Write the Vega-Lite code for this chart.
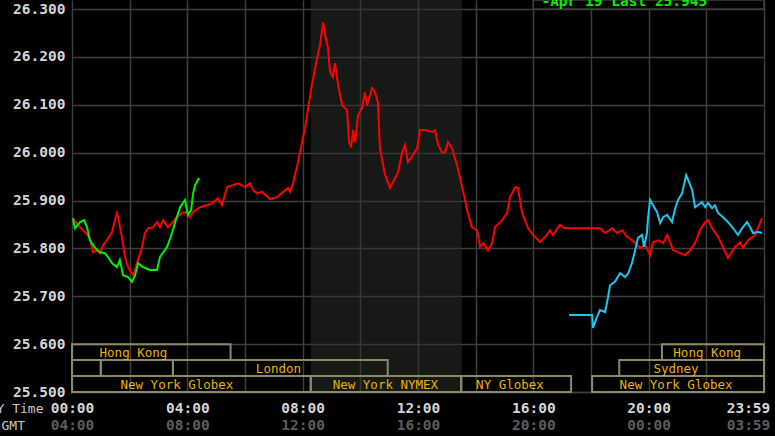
{
  "$schema": "https://vega.github.io/schema/vega-lite/v6.json",
  "width": 692,
  "height": 392,
  "autosize": "none",
  "padding": {"left": 72, "top": 0, "right": 11, "bottom": 44},
  "background": "#000000",
  "config": {
    "view": {"stroke": null},
    "axisY": {"grid": true, "gridColor": "#3e3e3e", "gridWidth": 1.5, "domain": false, "ticks": false, "labelPadding": 7,
      "labelFont": "DejaVu Sans Mono", "labelFontWeight": "bold", "labelFontSize": 14.5, "labelColor": "#d4d4d4",
      "labelOverlap": false, "labelFlush": false, "labelBound": false}
  },
  "datasets": {
    "prices": [
      {"s":"Current","h":0.03,"p":25.863},{"s":"Current","h":0.28,"p":25.844},{"s":"Current","h":0.45,"p":25.834},{"s":"Current","h":0.62,"p":25.822},{"s":"Current","h":0.73,"p":25.792},{"s":"Current","h":0.87,"p":25.796},{"s":"Current","h":0.97,"p":25.790},{"s":"Current","h":1.08,"p":25.807},{"s":"Current","h":1.21,"p":25.817},{"s":"Current","h":1.39,"p":25.834},{"s":"Current","h":1.49,"p":25.859},{"s":"Current","h":1.56,"p":25.874},{"s":"Current","h":1.60,"p":25.865},{"s":"Current","h":1.73,"p":25.824},{"s":"Current","h":1.84,"p":25.782},{"s":"Current","h":1.94,"p":25.761},{"s":"Current","h":2.12,"p":25.744},{"s":"Current","h":2.19,"p":25.755},{"s":"Current","h":2.29,"p":25.776},{"s":"Current","h":2.43,"p":25.803},{"s":"Current","h":2.53,"p":25.832},{"s":"Current","h":2.64,"p":25.842},{"s":"Current","h":2.81,"p":25.844},{"s":"Current","h":2.95,"p":25.855},{"s":"Current","h":3.05,"p":25.844},{"s":"Current","h":3.16,"p":25.859},{"s":"Current","h":3.33,"p":25.844},{"s":"Current","h":3.50,"p":25.855},{"s":"Current","h":3.64,"p":25.865},{"s":"Current","h":3.82,"p":25.874},{"s":"Current","h":3.99,"p":25.876},{"s":"Current","h":4.09,"p":25.865},{"s":"Current","h":4.20,"p":25.876},{"s":"Current","h":4.44,"p":25.886},{"s":"Current","h":4.68,"p":25.890},{"s":"Current","h":4.89,"p":25.895},{"s":"Current","h":5.06,"p":25.905},{"s":"Current","h":5.20,"p":25.890},{"s":"Current","h":5.38,"p":25.928},{"s":"Current","h":5.58,"p":25.932},{"s":"Current","h":5.76,"p":25.936},{"s":"Current","h":6.00,"p":25.928},{"s":"Current","h":6.17,"p":25.936},{"s":"Current","h":6.28,"p":25.922},{"s":"Current","h":6.42,"p":25.915},{"s":"Current","h":6.59,"p":25.918},{"s":"Current","h":6.87,"p":25.903},{"s":"Current","h":7.11,"p":25.907},{"s":"Current","h":7.32,"p":25.918},{"s":"Current","h":7.49,"p":25.926},{"s":"Current","h":7.56,"p":25.918},{"s":"Current","h":7.67,"p":25.936},{"s":"Current","h":7.73,"p":25.953},{"s":"Current","h":7.84,"p":25.980},{"s":"Current","h":7.98,"p":26.022},{"s":"Current","h":8.08,"p":26.051},{"s":"Current","h":8.19,"p":26.093},{"s":"Current","h":8.32,"p":26.141},{"s":"Current","h":8.50,"p":26.197},{"s":"Current","h":8.60,"p":26.224},{"s":"Current","h":8.71,"p":26.272},{"s":"Current","h":8.78,"p":26.245},{"s":"Current","h":8.88,"p":26.218},{"s":"Current","h":8.95,"p":26.168},{"s":"Current","h":9.05,"p":26.158},{"s":"Current","h":9.12,"p":26.187},{"s":"Current","h":9.23,"p":26.141},{"s":"Current","h":9.37,"p":26.099},{"s":"Current","h":9.54,"p":26.089},{"s":"Current","h":9.61,"p":26.022},{"s":"Current","h":9.68,"p":26.011},{"s":"Current","h":9.75,"p":26.047},{"s":"Current","h":9.82,"p":26.022},{"s":"Current","h":9.92,"p":26.078},{"s":"Current","h":10.06,"p":26.093},{"s":"Current","h":10.16,"p":26.126},{"s":"Current","h":10.23,"p":26.099},{"s":"Current","h":10.41,"p":26.135},{"s":"Current","h":10.51,"p":26.126},{"s":"Current","h":10.61,"p":26.105},{"s":"Current","h":10.68,"p":26.009},{"s":"Current","h":10.86,"p":25.953},{"s":"Current","h":11.03,"p":25.926},{"s":"Current","h":11.13,"p":25.938},{"s":"Current","h":11.31,"p":25.959},{"s":"Current","h":11.45,"p":26.001},{"s":"Current","h":11.55,"p":26.016},{"s":"Current","h":11.65,"p":25.980},{"s":"Current","h":11.83,"p":25.995},{"s":"Current","h":11.97,"p":26.009},{"s":"Current","h":12.07,"p":26.047},{"s":"Current","h":12.24,"p":26.047},{"s":"Current","h":12.49,"p":26.043},{"s":"Current","h":12.59,"p":26.047},{"s":"Current","h":12.70,"p":26.016},{"s":"Current","h":12.83,"p":26.001},{"s":"Current","h":12.94,"p":26.001},{"s":"Current","h":13.04,"p":26.022},{"s":"Current","h":13.18,"p":26.009},{"s":"Current","h":13.35,"p":25.974},{"s":"Current","h":13.46,"p":25.947},{"s":"Current","h":13.63,"p":25.901},{"s":"Current","h":13.70,"p":25.880},{"s":"Current","h":13.87,"p":25.844},{"s":"Current","h":14.05,"p":25.838},{"s":"Current","h":14.15,"p":25.803},{"s":"Current","h":14.26,"p":25.811},{"s":"Current","h":14.43,"p":25.796},{"s":"Current","h":14.57,"p":25.811},{"s":"Current","h":14.67,"p":25.844},{"s":"Current","h":14.92,"p":25.859},{"s":"Current","h":15.09,"p":25.874},{"s":"Current","h":15.19,"p":25.907},{"s":"Current","h":15.37,"p":25.928},{"s":"Current","h":15.47,"p":25.926},{"s":"Current","h":15.61,"p":25.874},{"s":"Current","h":15.82,"p":25.842},{"s":"Current","h":15.99,"p":25.828},{"s":"Current","h":16.23,"p":25.813},{"s":"Current","h":16.41,"p":25.824},{"s":"Current","h":16.58,"p":25.838},{"s":"Current","h":16.68,"p":25.828},{"s":"Current","h":16.92,"p":25.849},{"s":"Current","h":17.10,"p":25.842},{"s":"Current","h":17.72,"p":25.842},{"s":"Current","h":18.31,"p":25.842},{"s":"Current","h":18.49,"p":25.832},{"s":"Current","h":18.73,"p":25.842},{"s":"Current","h":18.90,"p":25.832},{"s":"Current","h":19.08,"p":25.838},{"s":"Current","h":19.25,"p":25.824},{"s":"Current","h":19.42,"p":25.817},{"s":"Current","h":19.60,"p":25.807},{"s":"Current","h":19.70,"p":25.801},{"s":"Current","h":19.88,"p":25.807},{"s":"Current","h":20.05,"p":25.786},{"s":"Current","h":20.15,"p":25.813},{"s":"Current","h":20.33,"p":25.817},{"s":"Current","h":20.50,"p":25.811},{"s":"Current","h":20.64,"p":25.828},{"s":"Current","h":20.74,"p":25.813},{"s":"Current","h":20.85,"p":25.796},{"s":"Current","h":21.09,"p":25.790},{"s":"Current","h":21.26,"p":25.786},{"s":"Current","h":21.44,"p":25.796},{"s":"Current","h":21.61,"p":25.811},{"s":"Current","h":21.78,"p":25.838},{"s":"Current","h":21.96,"p":25.855},{"s":"Current","h":22.06,"p":25.859},{"s":"Current","h":22.20,"p":25.842},{"s":"Current","h":22.41,"p":25.824},{"s":"Current","h":22.75,"p":25.780},{"s":"Current","h":23.00,"p":25.803},{"s":"Current","h":23.17,"p":25.813},{"s":"Current","h":23.27,"p":25.801},{"s":"Current","h":23.45,"p":25.817},{"s":"Current","h":23.69,"p":25.828},{"s":"Current","h":23.93,"p":25.863},
      {"s":"Apr 19","h":0.03,"p":25.863},{"s":"Apr 19","h":0.10,"p":25.842},{"s":"Apr 19","h":0.28,"p":25.855},{"s":"Apr 19","h":0.42,"p":25.859},{"s":"Apr 19","h":0.52,"p":25.844},{"s":"Apr 19","h":0.62,"p":25.817},{"s":"Apr 19","h":0.80,"p":25.801},{"s":"Apr 19","h":0.97,"p":25.792},{"s":"Apr 19","h":1.14,"p":25.790},{"s":"Apr 19","h":1.25,"p":25.782},{"s":"Apr 19","h":1.39,"p":25.769},{"s":"Apr 19","h":1.56,"p":25.761},{"s":"Apr 19","h":1.66,"p":25.776},{"s":"Apr 19","h":1.77,"p":25.744},{"s":"Apr 19","h":1.94,"p":25.740},{"s":"Apr 19","h":2.08,"p":25.730},{"s":"Apr 19","h":2.19,"p":25.744},{"s":"Apr 19","h":2.29,"p":25.769},{"s":"Apr 19","h":2.46,"p":25.761},{"s":"Apr 19","h":2.71,"p":25.755},{"s":"Apr 19","h":2.95,"p":25.755},{"s":"Apr 19","h":3.05,"p":25.782},{"s":"Apr 19","h":3.30,"p":25.803},{"s":"Apr 19","h":3.47,"p":25.832},{"s":"Apr 19","h":3.57,"p":25.853},{"s":"Apr 19","h":3.75,"p":25.886},{"s":"Apr 19","h":3.92,"p":25.901},{"s":"Apr 19","h":4.02,"p":25.870},{"s":"Apr 19","h":4.13,"p":25.880},{"s":"Apr 19","h":4.20,"p":25.915},{"s":"Apr 19","h":4.27,"p":25.932},{"s":"Apr 19","h":4.41,"p":25.947},
      {"s":"Overnight","h":17.24,"p":25.661},{"s":"Overnight","h":18.04,"p":25.661},{"s":"Overnight","h":18.07,"p":25.634},{"s":"Overnight","h":18.21,"p":25.657},{"s":"Overnight","h":18.31,"p":25.671},{"s":"Overnight","h":18.49,"p":25.667},{"s":"Overnight","h":18.59,"p":25.698},{"s":"Overnight","h":18.66,"p":25.723},{"s":"Overnight","h":18.83,"p":25.730},{"s":"Overnight","h":19.01,"p":25.748},{"s":"Overnight","h":19.18,"p":25.740},{"s":"Overnight","h":19.29,"p":25.748},{"s":"Overnight","h":19.42,"p":25.769},{"s":"Overnight","h":19.53,"p":25.796},{"s":"Overnight","h":19.63,"p":25.822},{"s":"Overnight","h":19.77,"p":25.828},{"s":"Overnight","h":19.84,"p":25.803},{"s":"Overnight","h":19.94,"p":25.832},{"s":"Overnight","h":19.98,"p":25.865},{"s":"Overnight","h":20.05,"p":25.901},{"s":"Overnight","h":20.15,"p":25.890},{"s":"Overnight","h":20.29,"p":25.876},{"s":"Overnight","h":20.40,"p":25.853},{"s":"Overnight","h":20.50,"p":25.865},{"s":"Overnight","h":20.64,"p":25.870},{"s":"Overnight","h":20.81,"p":25.855},{"s":"Overnight","h":20.92,"p":25.884},{"s":"Overnight","h":21.02,"p":25.901},{"s":"Overnight","h":21.16,"p":25.915},{"s":"Overnight","h":21.30,"p":25.953},{"s":"Overnight","h":21.37,"p":25.943},{"s":"Overnight","h":21.51,"p":25.922},{"s":"Overnight","h":21.61,"p":25.886},{"s":"Overnight","h":21.71,"p":25.890},{"s":"Overnight","h":21.85,"p":25.897},{"s":"Overnight","h":21.96,"p":25.886},{"s":"Overnight","h":22.06,"p":25.895},{"s":"Overnight","h":22.20,"p":25.884},{"s":"Overnight","h":22.30,"p":25.890},{"s":"Overnight","h":22.41,"p":25.874},{"s":"Overnight","h":22.58,"p":25.865},{"s":"Overnight","h":22.75,"p":25.855},{"s":"Overnight","h":22.93,"p":25.842},{"s":"Overnight","h":23.10,"p":25.828},{"s":"Overnight","h":23.24,"p":25.842},{"s":"Overnight","h":23.41,"p":25.855},{"s":"Overnight","h":23.52,"p":25.844},{"s":"Overnight","h":23.62,"p":25.832},{"s":"Overnight","h":23.79,"p":25.834},{"s":"Overnight","h":23.93,"p":25.832}
    ],
    "sessions": [
      {"name":"Hong Kong","start":0,"end":5.5,"p":25.5667,"p2":25.6,"at":2.13},
      {"name":"","start":0,"end":1.0,"p":25.5333,"p2":25.5667,"at":0.5},
      {"name":"","start":1.0,"end":3.5,"p":25.5333,"p2":25.5667,"at":2.25},
      {"name":"London","start":3.5,"end":10.95,"p":25.5333,"p2":25.5667,"at":7.16},
      {"name":"New York Globex","start":0,"end":8.28,"p":25.5,"p2":25.5333,"at":3.64},
      {"name":"New York NYMEX","start":8.28,"end":13.5,"p":25.5,"p2":25.5333,"at":10.87},
      {"name":"NY Globex","start":13.5,"end":17.31,"p":25.5,"p2":25.5333,"at":15.19},
      {"name":"New York Globex","start":18.04,"end":24,"p":25.5,"p2":25.5333,"at":20.95},
      {"name":"Sydney","start":18.98,"end":24,"p":25.5333,"p2":25.5667,"at":20.95},
      {"name":"Hong Kong","start":20.46,"end":24,"p":25.5667,"p2":25.6,"at":22.03}
    ],
    "shade": [{"start": 8.28, "end": 13.52}],
    "legend": [{"start": 16, "end": 24, "p": 26.3, "p2": 26.3188, "label": "-Apr 19 Last 25.945", "at": 16.28, "ty": 26.306}]
  },
  "resolve": {"axis": {"x": "independent"}},
  "layer": [
    {
      "data": {"name": "shade"},
      "mark": {"type": "rect", "fill": "#2c322c", "opacity": 0.5},
      "encoding": {
        "x": {"field": "start", "type": "quantitative",
          "scale": {"domain": [0, 24], "nice": false, "zero": false},
          "axis": {"orient": "bottom", "offset": 17, "values": [0, 4, 8, 12, 16, 20, 24], "grid": false, "domain": false, "ticks": false,
            "labelExpr": "datum.value == 24 ? '03:59' : ((((datum.value + 4) % 24) < 10) ? '0' : '') + ((datum.value + 4) % 24) + ':00'",
            "labelOffset": {"condition": {"test": "datum.value == 24", "value": -16}, "value": 0},
            "labelFont": "DejaVu Sans Mono", "labelFontWeight": "bold", "labelFontSize": 14.5, "labelColor": "#5c5c5c",
            "labelPadding": 20, "labelBaseline": "alphabetic", "labelOverlap": false, "labelFlush": false, "labelBound": false,
            "title": "GMT", "titleX": -71, "titleY": 20, "titleAlign": "left", "titleBaseline": "alphabetic", "titleAngle": 0,
            "titleFont": "DejaVu Sans Mono", "titleFontWeight": "normal", "titleFontSize": 13, "titleColor": "#c8c8c8"}},
        "x2": {"field": "end"}
      }
    },
    {
      "data": {"name": "sessions"},
      "mark": {"type": "rect", "fill": "#000000", "fillOpacity": 0, "stroke": "#8c8a66", "strokeWidth": 2},
      "encoding": {
        "x": {"field": "start", "type": "quantitative", "scale": {"domain": [0, 24], "nice": false, "zero": false}, "axis": null},
        "x2": {"field": "end"},
        "y": {"field": "p", "type": "quantitative", "scale": {"domain": [25.5, 26.3188], "nice": false, "zero": false}},
        "y2": {"field": "p2"}
      }
    },
    {
      "data": {"name": "sessions"},
      "mark": {"type": "text", "font": "DejaVu Sans Mono", "fontSize": 12.5, "color": "#e8b400", "baseline": "alphabetic", "dy": -3, "align": "center"},
      "encoding": {
        "x": {"field": "at", "type": "quantitative", "scale": {"domain": [0, 24], "nice": false, "zero": false}, "axis": null},
        "y": {"field": "p", "type": "quantitative", "scale": {"domain": [25.5, 26.3188], "nice": false, "zero": false}},
        "text": {"field": "name"}
      }
    },
    {
      "data": {"name": "prices"},
      "mark": {"type": "line", "strokeWidth": 2, "interpolate": "linear"},
      "encoding": {
        "x": {"field": "h", "type": "quantitative",
          "scale": {"domain": [0, 24], "nice": false, "zero": false},
          "axis": {"orient": "bottom", "values": [0, 2, 4, 6, 8, 10, 12, 14, 16, 18, 20, 22, 24], "grid": true, "gridColor": "#3e3e3e", "gridWidth": 1.5,
            "domainColor": "#3e3e3e", "domainWidth": 1.5, "ticks": false,
            "labelExpr": "datum.value == 24 ? '23:59' : (datum.value % 4 == 0 ? (datum.value < 10 ? '0' : '') + datum.value + ':00' : '')",
            "labelOffset": {"condition": {"test": "datum.value == 24", "value": -16}, "value": 0},
            "labelFont": "DejaVu Sans Mono", "labelFontWeight": "bold", "labelFontSize": 14.5, "labelColor": "#d4d4d4",
            "labelPadding": 20, "labelBaseline": "alphabetic", "labelOverlap": false, "labelFlush": false, "labelBound": false,
            "title": "NY Time", "titleX": -29, "titleY": 20, "titleAlign": "right", "titleBaseline": "alphabetic", "titleAngle": 0,
            "titleFont": "DejaVu Sans Mono", "titleFontWeight": "normal", "titleFontSize": 13, "titleColor": "#c8c8c8"}},
        "y": {"field": "p", "type": "quantitative",
          "scale": {"domain": [25.5, 26.3188], "nice": false, "zero": false},
          "axis": {"values": [25.5, 25.6, 25.7, 25.8, 25.9, 26.0, 26.1, 26.2, 26.3], "format": ".3f", "title": null, "orient": "left"}},
        "color": {"field": "s", "type": "nominal", "scale": {"domain": ["Current", "Apr 19", "Overnight"], "range": ["#ff0000", "#00f000", "#1ec4f0"]}, "legend": null}
      }
    },
    {
      "data": {"name": "legend"},
      "mark": {"type": "rect", "fill": "#000000", "stroke": "#3e3e3e", "strokeWidth": 1.5, "clip": true},
      "encoding": {
        "x": {"field": "start", "type": "quantitative", "scale": {"domain": [0, 24], "nice": false, "zero": false}, "axis": null},
        "x2": {"field": "end"},
        "y": {"field": "p", "type": "quantitative", "scale": {"domain": [25.5, 26.3188], "nice": false, "zero": false}},
        "y2": {"field": "p2"}
      }
    },
    {
      "data": {"name": "legend"},
      "mark": {"type": "text", "font": "DejaVu Sans Mono", "fontWeight": "bold", "fontSize": 14.5, "color": "#00f000", "align": "left", "baseline": "alphabetic", "clip": true},
      "encoding": {
        "x": {"field": "at", "type": "quantitative", "scale": {"domain": [0, 24], "nice": false, "zero": false}, "axis": null},
        "y": {"field": "ty", "type": "quantitative", "scale": {"domain": [25.5, 26.3188], "nice": false, "zero": false}},
        "text": {"field": "label"}
      }
    }
  ]
}
